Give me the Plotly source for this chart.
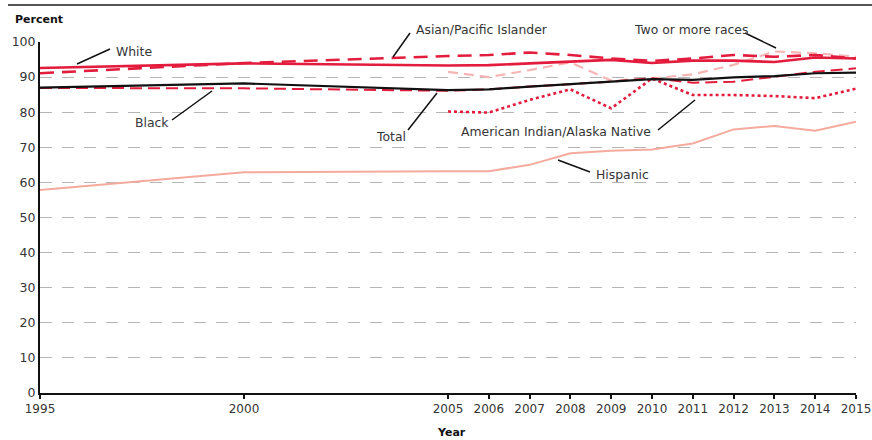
import plotly.graph_objects as go

years = [1995, 2000, 2005, 2006, 2007, 2008, 2009, 2010, 2011, 2012, 2013, 2014, 2015]
years_late = [2005, 2006, 2007, 2008, 2009, 2010, 2011, 2012, 2013, 2014, 2015]

total = [87.0, 88.2, 86.3, 86.5, 87.3, 87.9, 88.7, 89.4, 89.2, 89.9, 90.3, 91.1, 91.3]
white = [92.6, 93.9, 93.3, 93.4, 93.9, 94.4, 94.9, 94.0, 94.7, 94.7, 94.3, 95.6, 95.3]
black = [86.9, 86.8, 86.1, 86.5, 87.3, 87.9, 88.7, 89.7, 88.4, 88.7, 90.1, 91.5, 92.5]
hispanic = [57.8, 62.9, 63.2, 63.2, 65.0, 68.3, 69.0, 69.4, 71.1, 75.1, 76.1, 74.7, 77.3]
asian = [91.1, 94.0, 96.0, 96.3, 97.0, 96.3, 95.3, 94.6, 95.3, 96.3, 95.8, 96.3, 95.3]
amind = [80.2, 79.9, 83.5, 86.5, 81.1, 89.6, 84.9, 84.9, 84.6, 84.0, 86.7]
twomore = [91.5, 90.0, 92.0, 94.2, 89.0, 89.6, 90.8, 93.5, 97.3, 96.8, 95.8]

year_ticks = [1995, 2000, 2005, 2006, 2007, 2008, 2009, 2010, 2011, 2012, 2013, 2014, 2015]
pct_ticks = [0, 10, 20, 30, 40, 50, 60, 70, 80, 90, 100]

RED = "#e31c3d"
FONT = "DejaVu Sans, sans-serif"
TXT = "#353535"

fig = go.Figure()
fig.add_trace(go.Scatter(x=years, y=hispanic, mode="lines", line=dict(color="#f5aa9e", width=2)))
fig.add_trace(go.Scatter(x=years_late, y=twomore, mode="lines", line=dict(color="#f6b5b5", width=2.2, dash="10px,6px")))
fig.add_trace(go.Scatter(x=years_late, y=amind, mode="lines", line=dict(color=RED, width=2.6, dash="dot")))
fig.add_trace(go.Scatter(x=years, y=black, mode="lines", line=dict(color=RED, width=2, dash="12px,6px")))
fig.add_trace(go.Scatter(x=years, y=total, mode="lines", line=dict(color="#111111", width=2.2)))
fig.add_trace(go.Scatter(x=years, y=asian, mode="lines", line=dict(color=RED, width=2.6, dash="14px,8px")))
fig.add_trace(go.Scatter(x=years, y=white, mode="lines", line=dict(color=RED, width=2.6)))

L, R, T, B = 40, 16, 42, 47
W, H = 872, 440
PW, PH = W - L - R, H - T - B


def px(x):
    return (x - L) / PW


def py(y):
    return (H - B - y) / PH


labels = [
    ("White", 114, 51, (77, 64), (110, 49)),
    ("Black", 133, 123, (172, 120), (212, 91)),
    ("Asian/Pacific Islander", 414, 29, (393, 57), (410, 33)),
    ("Total", 374, 136, (408, 130), (437, 93)),
    ("Two or more races", 632, 29, (745, 33), (776, 48)),
    ("American Indian/Alaska Native", 459, 131, (658, 130), (695, 100)),
    ("Hispanic", 594, 174, (558, 160), (590, 172)),
]

annotations = []
shapes = []
for text, tx, ty, p1, p2 in labels:
    annotations.append(dict(text=text, x=px(tx), y=py(ty), xref="paper", yref="paper",
                            xanchor="left", yanchor="middle", showarrow=False,
                            font=dict(family=FONT, size=12.4, color=TXT)))
    shapes.append(dict(type="line", xref="paper", yref="paper",
                       x0=px(p1[0]), y0=py(p1[1]), x1=px(p2[0]), y1=py(p2[1]),
                       line=dict(color="#111111", width=1.5)))

annotations.append(dict(text="<b>Percent</b>", x=px(13), y=py(19), xref="paper", yref="paper",
                        xanchor="left", yanchor="middle", showarrow=False,
                        font=dict(family=FONT, size=11, color="#111111")))
annotations.append(dict(text="<b>Year</b>", x=px(435), y=py(432), xref="paper", yref="paper",
                        xanchor="left", yanchor="middle", showarrow=False,
                        font=dict(family=FONT, size=11, color="#111111")))

shapes.append(dict(type="line", xref="paper", yref="paper", x0=px(8), x1=px(872), y0=py(5), y1=py(5),
                   line=dict(color="#555555", width=2)))

fig.update_layout(
    width=W, height=H,
    margin=dict(l=L, r=R, t=T, b=B, autoexpand=False),
    paper_bgcolor="white", plot_bgcolor="white",
    showlegend=False,
    annotations=annotations,
    shapes=shapes,
    font=dict(family=FONT, size=12, color=TXT),
)
fig.update_xaxes(range=[1995, 2015], tickmode="array", tickvals=year_ticks,
                 ticktext=[str(v) for v in year_ticks], automargin=False,
                 showgrid=False, zeroline=False, showline=True, linecolor="#111111", linewidth=2,
                 ticks="outside", ticklen=4, tickwidth=1.5, tickcolor="#111111",
                 tickfont=dict(family=FONT, size=12, color=TXT))
fig.update_yaxes(range=[0, 100], tickmode="array", tickvals=pct_ticks, automargin=False,
                 showgrid=True, gridcolor="#b5b5b5", gridwidth=1, griddash="12px,10px",
                 zeroline=False, showline=True, linecolor="#111111", linewidth=2,
                 ticks="", tickfont=dict(family=FONT, size=12.5, color=TXT))

fig.write_html("out.html", config={"displayModeBar": False},
               post_script="document.body.style.margin='0px';document.body.style.overflow='hidden';")
